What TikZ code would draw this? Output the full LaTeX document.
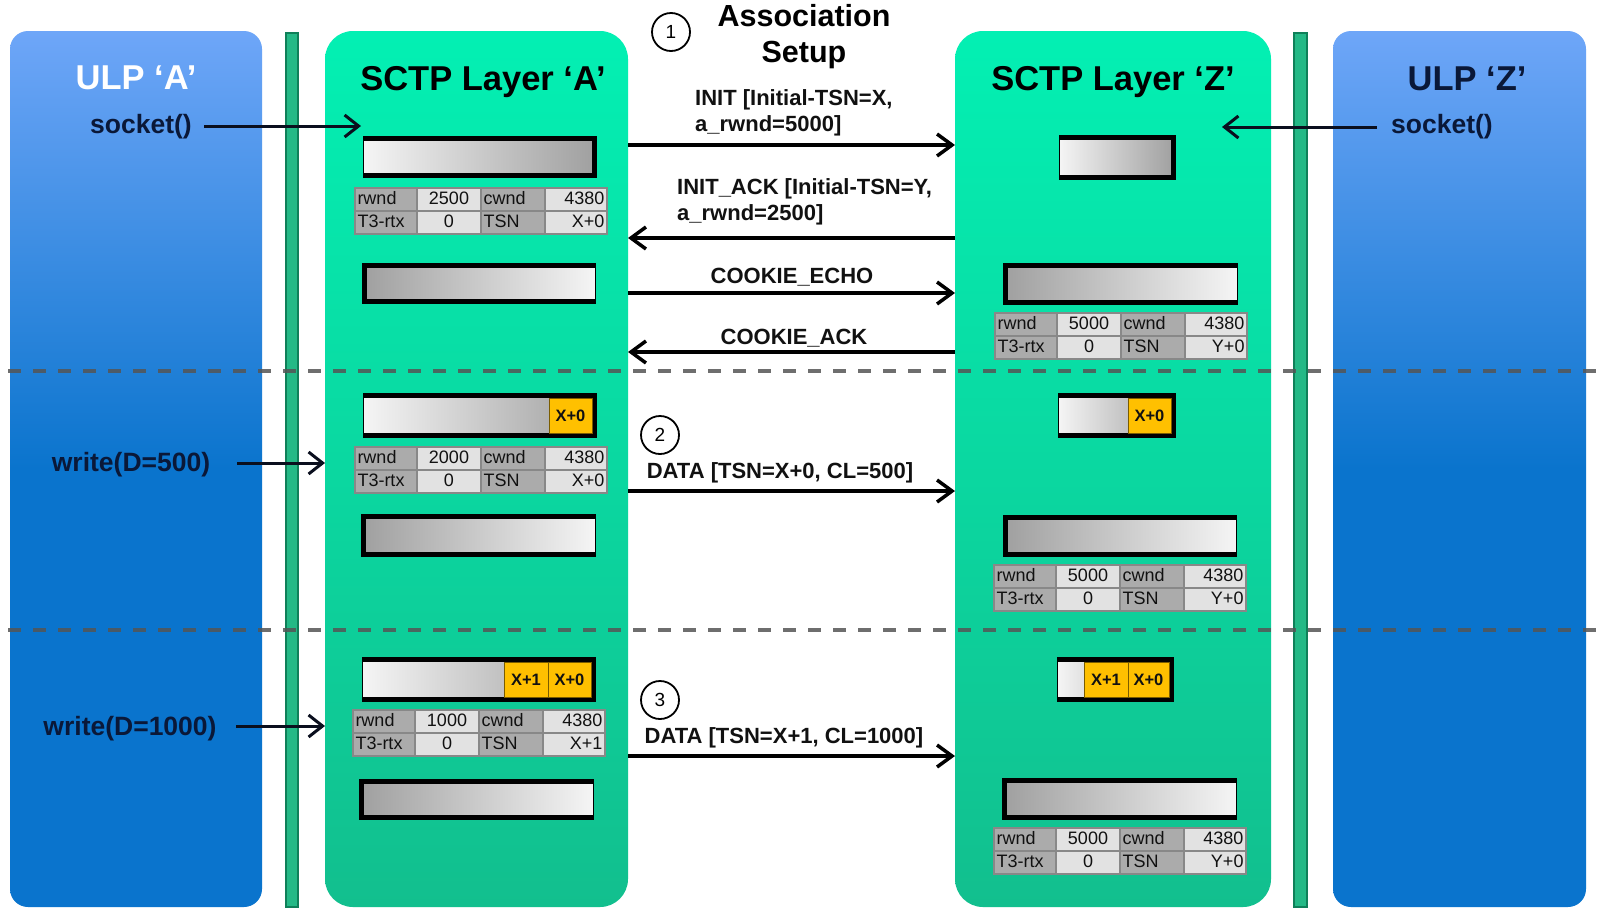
\documentclass[tikz,border=0pt]{standalone}
\usepackage{fontspec}
\setmainfont{Liberation Sans}
\usetikzlibrary{arrows.meta}
\definecolor{ulptop}{HTML}{6EA6F8}
\definecolor{ulpbot}{HTML}{0A74CD}
\definecolor{sctptop}{HTML}{03F0B3}
\definecolor{sctpbot}{HTML}{12BF8E}
\definecolor{railfill}{HTML}{24B986}
\definecolor{railedge}{HTML}{0F8059}
\definecolor{navy}{HTML}{0A1838}
\definecolor{arrowink}{HTML}{0A0F1E}
\definecolor{gold}{HTML}{FFC000}
\definecolor{goldline}{HTML}{7A5C00}
\definecolor{labgray}{HTML}{ABABAB}
\definecolor{valgray}{HTML}{E2E2E2}
\definecolor{cellline}{HTML}{888888}
\definecolor{barlight}{HTML}{F5F5F5}
\definecolor{bardark}{HTML}{A0A0A0}
\definecolor{dashgray}{HTML}{555555}
\definecolor{ink}{HTML}{111111}
\newcommand\tabfnt{\fontsize{18}{20}\selectfont}
\newcommand\sbuf[5]{%
  \node[sendbuf, minimum width=#4pt, minimum height=#5pt] (#1) at (#2,#3) {};
  \draw[bufedge] (#1.north west) -- (#1.north east) -- (#1.south east) -- (#1.south west);}
\newcommand\rbuf[5]{%
  \node[recvbuf, minimum width=#4pt, minimum height=#5pt] (#1) at (#2,#3) {};
  \draw[bufedge] (#1.north east) -- (#1.north west) -- (#1.south west) -- (#1.south east);}
\newcommand\sctptab[6]{%
  \node[tlab, text width=57pt, align=left]   (#1a) at (#2,#3) {rwnd};
  \node[tval, text width=59pt, align=center] (#1b) at (#1a.north east) {#4};
  \node[tlab, text width=59pt, align=left]   (#1c) at (#1b.north east) {cwnd};
  \node[tval, text width=57pt, align=right]  (#1d) at (#1c.north east) {#5};
  \node[tlab, text width=57pt, align=left]   (#1e) at (#1a.south west) {T3-rtx};
  \node[tval, text width=59pt, align=center] (#1f) at (#1e.north east) {0};
  \node[tlab, text width=59pt, align=left]   (#1g) at (#1f.north east) {TSN};
  \node[tval, text width=57pt, align=right]  (#1h) at (#1g.north east) {#6};}
\tikzset{
  ulpbox/.style={rectangle, rounded corners=18pt, anchor=north west, inner sep=0pt, outer sep=0pt,
    top color=ulptop, bottom color=ulpbot, middle color=ulpbot},
  sctpbox/.style={rectangle, rounded corners=28pt, anchor=north west, inner sep=0pt, outer sep=0pt,
    top color=sctptop, bottom color=sctpbot},
  rail/.style={rectangle, anchor=north west, fill=railfill, draw=railedge, line width=1.5pt, inner sep=0pt, outer sep=0pt},
  sendbuf/.style={rectangle, anchor=north west, inner sep=0pt, outer sep=0pt, left color=barlight, right color=bardark, draw=black, line width=1pt},
  recvbuf/.style={rectangle, anchor=north west, inner sep=0pt, outer sep=0pt, left color=bardark, right color=barlight, draw=black, line width=1pt},
  bufedge/.style={black, line width=5pt, line join=miter},
  seg/.style={rectangle, anchor=north west, inner sep=0pt, outer sep=0pt, fill=gold, draw=goldline, line width=1pt,
    text=ink, font=\fontsize{16.5}{18}\selectfont\bfseries},
  tcell/.style={rectangle, anchor=north west, inner xsep=2.5pt, inner ysep=0pt, outer sep=0pt, minimum height=23pt,
    text height=13pt, text depth=3.5pt, draw=cellline, line width=1.2pt, font=\tabfnt, text=ink},
  tlab/.style={tcell, fill=labgray},
  tval/.style={tcell, fill=valgray},
  title/.style={font=\fontsize{34.5}{40}\selectfont\bfseries, anchor=base, inner sep=0pt},
  calltext/.style={font=\fontsize{26.5}{30}\selectfont\bfseries, text=navy, anchor=base, inner sep=0pt},
  msgtext/.style={font=\fontsize{22}{26}\selectfont\bfseries, inner sep=0pt, text=ink},
  numcirc/.style={circle, draw=black, line width=1.8pt, fill=white, minimum size=38pt, inner sep=0pt,
    font=\fontsize{19}{20}\selectfont},
  msg/.style={line width=3.5pt, -{Straight Barb[length=15pt, width=22pt]}},
  call/.style={arrowink, line width=3pt, -{Straight Barb[length=14pt, width=22pt]}},
  sepline/.style={dashgray, line width=3.5pt, dash pattern=on 13pt off 12pt, opacity=0.85},
}
\begin{document}
\begin{tikzpicture}[x=1pt,y=-1pt]
\fill[white] (0,0) rectangle (1598,911);
\useasboundingbox (0,0) rectangle (1598,911);

% columns
\node[ulpbox, minimum width=252pt, minimum height=876pt] (ulpA) at (10,31) {};
\node[rail, minimum width=12pt, minimum height=874pt] (railA) at (286,33) {};
\node[sctpbox, minimum width=303pt, minimum height=876pt] (sctpA) at (325,31) {};
\node[sctpbox, minimum width=316pt, minimum height=876pt] (sctpZ) at (955,31) {};
\node[rail, minimum width=13pt, minimum height=874pt] (railZ) at (1294,33) {};
\node[ulpbox, minimum width=253pt, minimum height=876pt] (ulpZ) at (1333,31) {};

% phase separators
\coordinate (d1a) at (8,371);  \coordinate (d1b) at (1598,371);
\coordinate (d2a) at (8,630);  \coordinate (d2b) at (1598,630);
\draw[sepline] (d1a) -- (d1b);
\draw[sepline] (d2a) -- (d2b);

% titles
\node[title, text=white] (tUlpA) at (136,89) {ULP ‘A’};
\node[title, text=black] (tSctpA) at (483,90) {SCTP Layer ‘A’};
\node[title, text=black] (tSctpZ) at (1113,90) {SCTP Layer ‘Z’};
\node[title, text=navy] (tUlpZ) at (1467,90) {ULP ‘Z’};

% ULP calls
\node[calltext] (sockA) at (141,133) {socket()};
\node[calltext] (sockZ) at (1442,133) {socket()};
\node[calltext] (wr1) at (131,471) {write(D=500)};
\node[calltext] (wr2) at (130,735) {write(D=1000)};
\coordinate (sA0) at (204,126); \coordinate (sA1) at (361,126);
\coordinate (sZ0) at (1377,127); \coordinate (sZ1) at (1222,127);
\coordinate (w1) at (237,463);
\coordinate (w2) at (236,726);
\draw[call] (sA0) -- (sA1);
\draw[call] (sZ0) -- (sZ1);
\draw[call] (w1) -- (sctpA.west |- w1);
\draw[call] (w2) -- (sctpA.west |- w2);

% step 1
\node[numcirc] (c1) at (671,32) {1};
\node[font=\fontsize{30.5}{36}\selectfont\bfseries, align=center, anchor=north, inner sep=0pt] (assoc) at (804,4) {Association\\Setup};
\node[msgtext, align=left, anchor=north west] (lInit) at (695,89) {INIT [Initial-TSN=X,\\a\_rwnd=5000]};
\node[msgtext, align=left, anchor=north west] (lAck) at (677,178) {INIT\_ACK [Initial-TSN=Y,\\a\_rwnd=2500]};
\node[msgtext, anchor=base] (lEcho) at (792,283) {COOKIE\_ECHO};
\node[msgtext, anchor=base] (lCack) at (794,344) {COOKIE\_ACK};
\coordinate (yInit) at (0,145);
\coordinate (yAck) at (0,238);
\coordinate (yEcho) at (0,293);
\coordinate (yCack) at (0,352);
\draw[msg] (sctpA.east |- yInit) -- (sctpZ.west |- yInit);
\draw[msg] (sctpZ.west |- yAck) -- (sctpA.east |- yAck);
\draw[msg] (sctpA.east |- yEcho) -- (sctpZ.west |- yEcho);
\draw[msg] (sctpZ.west |- yCack) -- (sctpA.east |- yCack);

% step 2
\node[numcirc] (c2) at (660,435) {2};
\node[msgtext, anchor=base] (lData1) at (780,478) {DATA [TSN=X+0, CL=500]};
\coordinate (yData1) at (0,491);
\draw[msg] (sctpA.east |- yData1) -- (sctpZ.west |- yData1);

% step 3
\node[numcirc] (c3) at (660,700) {3};
\node[msgtext, anchor=base] (lData2) at (784,743) {DATA [TSN=X+1, CL=1000]};
\coordinate (yData2) at (0,756);
\draw[msg] (sctpA.east |- yData2) -- (sctpZ.west |- yData2);

% buffers
\sbuf{bA1s}{363}{138.5}{231}{37}
\rbuf{bA1r}{364.5}{265.5}{231}{36}
\sbuf{bZ1s}{1059}{137.5}{114.5}{40}
\rbuf{bZ1r}{1005.5}{265.5}{232}{37}
\sbuf{bA2s}{363}{395.5}{231.5}{40}
\rbuf{bA2r}{363.5}{516.5}{232}{38}
\sbuf{bZ2s}{1058}{395.5}{115.5}{40}
\rbuf{bZ2r}{1005.5}{517.5}{231}{37}
\sbuf{bA3s}{362}{659.5}{231.5}{40}
\rbuf{bA3r}{361.5}{781.5}{232}{36}
\sbuf{bZ3s}{1057}{659.5}{114.5}{40}
\rbuf{bZ3r}{1004.5}{780.5}{232}{37}

% queued chunks
\node[seg, minimum width=43pt, minimum height=35pt] (yA2a) at (549,398) {X+0};
\node[seg, minimum width=43pt, minimum height=35pt] (yZ2a) at (1128,398) {X+0};
\node[seg, minimum width=44pt, minimum height=35pt] (yA3b) at (504,662) {X+1};
\node[seg, minimum width=43pt, minimum height=35pt] (yA3a) at (548,662) {X+0};
\node[seg, minimum width=44pt, minimum height=35pt] (yZ3b) at (1084,662) {X+1};
\node[seg, minimum width=41pt, minimum height=35pt] (yZ3a) at (1128,662) {X+0};

% state tables
\sctptab{tA1}{355}{188}{2500}{4380}{X+0}
\sctptab{tZ1}{995}{313}{5000}{4380}{Y+0}
\sctptab{tA2}{355}{447}{2000}{4380}{X+0}
\sctptab{tZ2}{994}{565}{5000}{4380}{Y+0}
\sctptab{tA3}{353}{710}{1000}{4380}{X+1}
\sctptab{tZ3}{994}{828}{5000}{4380}{Y+0}
\end{tikzpicture}
\end{document}
